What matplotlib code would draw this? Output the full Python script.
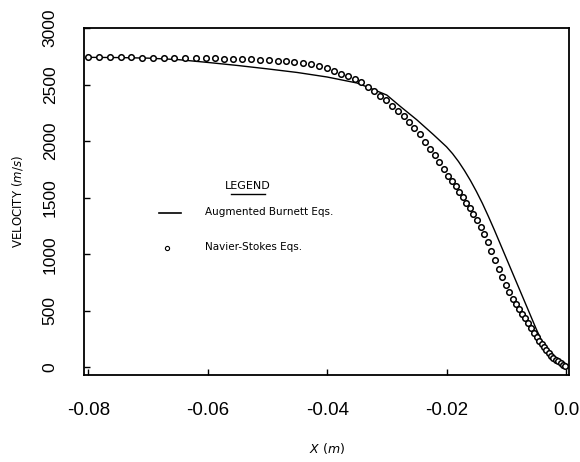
import matplotlib
matplotlib.use("Agg")
import matplotlib.pyplot as plt

plt.rcParams['axes.unicode_minus'] = False

# === Navier-Stokes solution (open circles) ===
ns_x = [-0.0800, -0.0782, -0.0764, -0.0746, -0.0728, -0.0710, -0.0692, -0.0674,
        -0.0656, -0.0638, -0.0620, -0.0603,
        -0.0587, -0.0572, -0.0557, -0.0542, -0.0527, -0.0512, -0.0497, -0.0483,
        -0.0469, -0.0455, -0.0441, -0.0427, -0.0414, -0.0401,
        -0.0389, -0.0377, -0.0365, -0.0354, -0.0343, -0.0332, -0.0321, -0.0311,
        -0.0301, -0.0291, -0.0281, -0.0272, -0.0263, -0.0254, -0.0245, -0.0236,
        -0.0228, -0.0220, -0.0212, -0.0204,
        -0.0197, -0.0191, -0.0185, -0.0179, -0.0173, -0.0167, -0.0161, -0.0155,
        -0.0149, -0.0143, -0.0137, -0.0131, -0.0125, -0.0119, -0.0113, -0.0107,
        -0.0101, -0.0095, -0.0089, -0.0084, -0.0079, -0.0074, -0.0069, -0.0064,
        -0.0059, -0.0054, -0.0049, -0.0045, -0.0041, -0.0037, -0.0033, -0.0029,
        -0.0025, -0.0021, -0.0017, -0.0013, -0.0009, -0.0005, -0.0001]
ns_v = [2742, 2742, 2742, 2741, 2741, 2740, 2740, 2739,
        2738, 2737, 2736, 2735,
        2733, 2731, 2729, 2726, 2723, 2719, 2715, 2711,
        2706, 2701, 2693, 2682, 2668, 2650,
        2623, 2599, 2575, 2553, 2524, 2480, 2440, 2400,
        2362, 2315, 2268, 2222, 2170, 2115, 2060, 1990,
        1935, 1880, 1815, 1750,
        1694, 1648, 1600, 1552, 1504, 1456, 1408, 1356,
        1300, 1240, 1175, 1106, 1030, 947, 872, 800,
        731, 667, 604, 561, 517, 474, 432, 389,
        347, 307, 267, 235, 203, 176, 150, 125,
        103, 84, 68, 52, 37, 24, 12]

# === Augmented Burnett solution (solid line) ===
ab_x = [-0.080, -0.075, -0.070, -0.065, -0.060, -0.055, -0.050, -0.045, -0.040,
        -0.035, -0.0333, -0.030, -0.0278, -0.025, -0.0222, -0.020, -0.019, -0.018,
        -0.017, -0.016, -0.015, -0.014, -0.013, -0.012, -0.011, -0.010, -0.009,
        -0.008, -0.007, -0.006, -0.005, -0.004, -0.003, -0.002, -0.001, 0.0]
ab_v = [2742, 2740, 2735, 2722, 2697, 2670, 2640, 2608, 2568,
        2515, 2480, 2408, 2310, 2190, 2058, 1950, 1890, 1820,
        1740, 1652, 1555, 1450, 1335, 1215, 1090, 965, 840,
        715, 590, 465, 340, 225, 135, 72, 32, 10]

x_ticks = [-0.08, -0.06, -0.04, -0.02, 0.0]
x_tick_labels = ["-0.08", "-0.06", "-0.04", "-0.02", "0.0"]
y_ticks = [0, 500, 1000, 1500, 2000, 2500, 3000]

fig = plt.figure(figsize=(5.8, 4.62), dpi=100)
ax = fig.add_axes([0.145, 0.188, 0.836, 0.751])

ax.plot(ab_x, ab_v, color="black", lw=1.0)
ax.plot(ns_x, ns_v, linestyle="none", marker="o", markersize=4,
        markerfacecolor="white", markeredgecolor="black", markeredgewidth=1.1)

ax.set_xlim(-0.0807, 0.0005)
ax.set_ylim(-70, 3000)
ax.set_xticks(x_ticks)
ax.set_xticklabels(x_tick_labels, family="Liberation Sans", fontsize=13.5)
ax.set_yticks(y_ticks)
ax.set_yticklabels([str(v) for v in y_ticks], family="Liberation Sans",
                   fontsize=12.5, rotation=90, va="center")
ax.tick_params(direction="in", length=4, width=1, pad=19)
ax.tick_params(axis="y", pad=19)
for sp in ax.spines.values():
    sp.set_linewidth(1.3)

ax.set_ylabel(r"VELOCITY $(m/s)$", fontsize=8.5, labelpad=13)
ax.set_xlabel(r"$X\ (m)$", fontsize=9, labelpad=16)

# legend drawn as text, like the original
ax.text(0.338, 0.545, "LEGEND", transform=ax.transAxes, fontsize=8,
        ha="center", va="center")
ax.plot([0.303, 0.373], [0.523, 0.523], transform=ax.transAxes, color="black", lw=1.0)
ax.plot([0.155, 0.2], [0.466, 0.466], transform=ax.transAxes, color="black", lw=1.2)
ax.text(0.25, 0.47, "Augmented Burnett Eqs.", transform=ax.transAxes, fontsize=7.5,
        ha="left", va="center")
ax.plot([0.17], [0.366], transform=ax.transAxes, marker="o", markersize=3,
        markerfacecolor="white", markeredgecolor="black", markeredgewidth=0.8)
ax.text(0.25, 0.37, "Navier-Stokes Eqs.", transform=ax.transAxes, fontsize=7.5,
        ha="left", va="center")

fig.savefig("out.png", dpi=100)
